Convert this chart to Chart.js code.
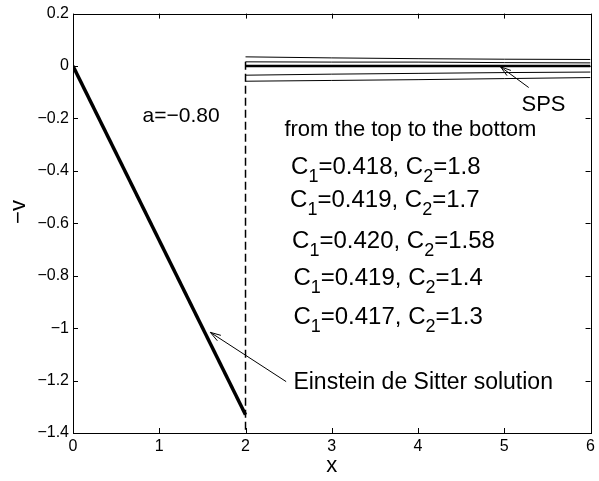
<!DOCTYPE html>
<html>
<head>
<meta charset="utf-8">
<script src="https://cdn.jsdelivr.net/npm/chart.js@4"></script>
<style>
  html, body { margin: 0; padding: 0; background: #fff; }
  canvas { display: block; }
</style>
</head>
<body>
<canvas id="chart" width="599" height="481"></canvas>
<script>
// Einstein de Sitter solution (straight line)
const edsX = [0, 2];
const edsV = [0, -1.33];

// SPS curves, from the top to the bottom
const spsX = [2, 3, 4, 5, 6];
const sps1 = [0.035, 0.031, 0.028, 0.026, 0.025];
const sps2 = [0.016, 0.015, 0.015, 0.013, 0.012];
const sps3 = [0, 0, 0, 0, 0];
const sps4 = [-0.035, -0.031, -0.028, -0.025, -0.023];
const sps5 = [-0.058, -0.055, -0.052, -0.048, -0.044];

// dashed vertical line at x = 2
const dashX = [2, 2];
const dashV = [0.016, -1.4];

const xTicks = [0, 1, 2, 3, 4, 5, 6];
const yTicks = [-1.4, -1.2, -1, -0.8, -0.6, -0.4, -0.2, 0, 0.2];

const C1 = ['0.418', '0.419', '0.420', '0.419', '0.417'];
const C2 = ['1.8', '1.7', '1.58', '1.4', '1.3'];

function pts(xs, ys) {
    return xs.map(function(x, i) { return { x: x, y: ys[i] }; });
}

function line(xs, ys, width, dash) {
    return {
        data: pts(xs, ys),
        showLine: true,
        borderColor: '#000',
        borderWidth: width,
        borderDash: dash || [],
        pointRadius: 0,
        fill: false
    };
}

const FONT = '"Liberation Sans", Arial, Helvetica, sans-serif';

function arrow(ctx, x1, y1, x2, y2) {
    // line from (x1,y1) to tip (x2,y2)
    ctx.beginPath();
    ctx.moveTo(x1, y1);
    ctx.lineTo(x2, y2);
    ctx.stroke();
    let ang = Math.atan2(y2 - y1, x2 - x1);
    let len = 11, spread = 0.3;
    ctx.beginPath();
    ctx.moveTo(x2 - len * Math.cos(ang - spread), y2 - len * Math.sin(ang - spread));
    ctx.lineTo(x2, y2);
    ctx.lineTo(x2 - len * Math.cos(ang + spread), y2 - len * Math.sin(ang + spread));
    ctx.stroke();
}

const decor = {
    id: 'decor',
    afterDraw: function(chart) {
        let ctx = chart.ctx;
        let a = chart.chartArea;
        let xs = chart.scales.x, ys = chart.scales.y;
        let px = function(v) { return xs.getPixelForValue(v); };
        let py = function(v) { return ys.getPixelForValue(v); };

        ctx.save();
        ctx.strokeStyle = '#000';
        ctx.fillStyle = '#000';
        ctx.lineWidth = 1;

        // box
        ctx.strokeRect(Math.round(a.left) + 0.5, Math.round(a.top) + 0.5,
            Math.round(a.right - a.left), Math.round(a.bottom - a.top));

        // inward ticks on all sides
        ctx.beginPath();
        xTicks.forEach(function(t) {
            let x = Math.round(px(t)) + 0.5;
            ctx.moveTo(x, a.bottom); ctx.lineTo(x, a.bottom - 5);
            ctx.moveTo(x, a.top); ctx.lineTo(x, a.top + 5);
        });
        yTicks.forEach(function(t) {
            let y = Math.round(py(t)) + 0.5;
            ctx.moveTo(a.left, y); ctx.lineTo(a.left + 5, y);
            ctx.moveTo(a.right, y); ctx.lineTo(a.right - 5, y);
        });
        ctx.stroke();

        // arrows
        arrow(ctx, px(5.283), py(-0.082), px(4.956), py(-0.003));
        arrow(ctx, px(2.471), py(-1.204), px(1.592), py(-1.016));

        // annotations
        ctx.textBaseline = 'alphabetic';
        ctx.textAlign = 'left';
        ctx.font = '21px ' + FONT;
        ctx.fillText('a=\u22120.80', px(0.806), py(-0.2125));
        ctx.font = '22px ' + FONT;
        ctx.fillText('SPS', px(5.199), py(-0.171));
        ctx.font = '22px ' + FONT;
        ctx.fillText('from the top to the bottom', px(2.451), py(-0.268));
        ctx.font = '23px ' + FONT;
        ctx.fillText('Einstein de Sitter solution', px(2.555), py(-1.233));

        // C1, C2 lines with subscripts
        let cx = [2.528, 2.517, 2.540, 2.555, 2.555];
        let cy = [-0.411, -0.538, -0.696, -0.834, -0.986];
        for (let i = 0; i < C1.length; i++) {
            let x = px(cx[i]), y = py(cy[i]);
            let parts = [['C', 0], ['1', 1], ['=' + C1[i] + ', C', 0], ['2', 1], ['=' + C2[i], 0]];
            parts.forEach(function(p) {
                if (p[1]) {
                    ctx.font = '18px ' + FONT;
                    ctx.fillText(p[0], x, y + 8);
                } else {
                    ctx.font = '24px ' + FONT;
                    ctx.fillText(p[0], x, y);
                }
                x += ctx.measureText(p[0]).width;
            });
        }

        // axis titles
        ctx.font = '22px ' + FONT;
        ctx.textAlign = 'center';
        ctx.textBaseline = 'middle';
        ctx.fillText('x', (a.left + a.right) / 2, 466);
        ctx.translate(19, 212);
        ctx.rotate(-Math.PI / 2);
        ctx.fillText('\u2212v', 0, 0);
        ctx.restore();
    }
};

let chartCtx = document.getElementById('chart').getContext('2d');

let chart = new Chart(chartCtx, {
    type: 'scatter',
    data: {
        datasets: [
            line(edsX, edsV, 3.5),
            line(dashX, dashV, 1.5, [8, 4]),
            line(spsX, sps1, 1),
            line(spsX, sps2, 1),
            line(spsX, sps3, 2.5),
            line(spsX, sps4, 1),
            line(spsX, sps5, 1)
        ]
    },
    options: {
        responsive: false,
        animation: false,
        devicePixelRatio: 1,
        layout: { padding: { top: 11, right: 7, left: 0, bottom: 0 } },
        plugins: {
            legend: { display: false },
            tooltip: { enabled: false }
        },
        scales: {
            x: {
                type: 'linear',
                min: 0,
                max: 6,
                afterBuildTicks: function(s) {
                    s.ticks = xTicks.map(function(v) { return { value: v }; });
                },
                afterFit: function(s) { s.height = 48; },
                grid: { display: false, drawTicks: false },
                border: { display: false },
                ticks: {
                    color: '#000',
                    padding: 4,
                    maxRotation: 0,
                    font: { family: FONT, size: 16 },
                    callback: function(v) { return String(v); }
                }
            },
            y: {
                type: 'linear',
                min: -1.4,
                max: 0.2,
                afterBuildTicks: function(s) {
                    s.ticks = yTicks.map(function(v) { return { value: v }; });
                },
                afterFit: function(s) { s.width = 73; },
                grid: { display: false, drawTicks: false },
                border: { display: false },
                ticks: {
                    color: '#000',
                    padding: 4,
                    font: { family: FONT, size: 16 },
                    callback: function(v) {
                        return String(Math.round(v * 10) / 10).replace('-', '\u2212');
                    }
                }
            }
        }
    },
    plugins: [decor]
});
</script>
</body>
</html>
